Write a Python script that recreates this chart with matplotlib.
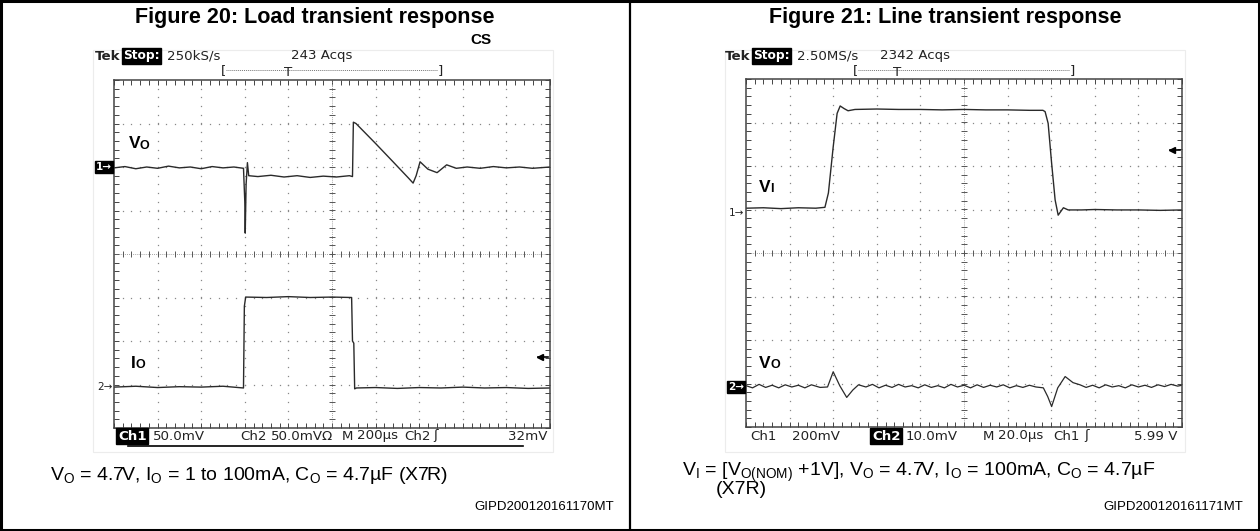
import numpy as np
import matplotlib
matplotlib.use('Agg')
import matplotlib.pyplot as plt
from matplotlib.ticker import MultipleLocator
from matplotlib.patches import Rectangle

plt.rcParams['font.family'] = ['Liberation Sans', 'DejaVu Sans']
plt.rcParams['mathtext.fontset'] = 'custom'
plt.rcParams['mathtext.rm'] = 'Liberation Sans'
plt.rcParams['mathtext.it'] = 'Liberation Sans'

# ---- data, in scope divisions (x: 0..10, y: -4..4) ----
# Figure 20, Ch1 (VO) load transient
load_vo_t = [0.0, 0.25, 0.5, 0.75, 1.0, 1.25, 1.5, 1.75, 2.0, 2.25, 2.5, 2.75, 2.97, 3.0, 3.01,
             3.03, 3.06, 3.09, 3.3, 3.6, 3.9, 4.2, 4.5, 4.8, 5.1, 5.4, 5.47, 5.49, 5.55, 6.0,
             6.4, 6.75, 6.86, 6.93, 7.02, 7.2, 7.41, 7.63, 7.85, 8.1, 8.4, 8.7, 9.0, 9.3, 9.6, 10.0]
load_vo_v = [1.98, 2.01, 1.96, 2.0, 1.97, 2.02, 1.98, 2.0, 1.96, 2.01, 1.98, 2.0, 1.97, 1.2, 0.48,
             1.6, 2.1, 1.8, 1.78, 1.81, 1.77, 1.8, 1.76, 1.79, 1.77, 1.8, 1.78, 3.03, 3.0, 2.54,
             2.12, 1.75, 1.63, 1.8, 2.12, 1.95, 1.87, 2.05, 1.97, 2.0, 1.97, 2.01, 1.98, 2.0, 1.97, 2.0]
# Figure 20, Ch2 (IO)
load_io_t = [0.0, 0.5, 1.0, 1.5, 2.0, 2.5, 2.97, 2.99, 3.02, 3.5, 4.0, 4.5, 5.0, 5.45, 5.47,
             5.5, 5.52, 5.56, 6.0, 6.5, 7.0, 7.5, 8.0, 8.5, 9.0, 9.5, 10.0]
load_io_v = [-3.06, -3.04, -3.07, -3.05, -3.06, -3.04, -3.08, -1.2, -0.99, -1.0, -0.98, -1.0, -0.99,
             -1.0, -2.0, -2.05, -3.1, -3.08, -3.07, -3.09, -3.07, -3.08, -3.06, -3.08, -3.07, -3.09, -3.08]
# Figure 21, Ch1 (VI) line step
line_vi_t = [0.0, 0.4, 0.8, 1.2, 1.6, 1.81, 1.89, 2.0, 2.09, 2.16, 2.25, 2.34, 2.5, 3.0, 3.5, 4.0,
             4.5, 5.0, 5.5, 6.0, 6.5, 6.81, 6.86, 6.93, 7.01, 7.09, 7.16, 7.28, 7.39, 7.7, 8.0, 8.5,
             9.0, 9.5, 10.0]
line_vi_v = [1.03, 1.04, 1.02, 1.04, 1.03, 1.05, 1.38, 2.44, 3.21, 3.38, 3.32, 3.27, 3.3, 3.31, 3.3,
             3.3, 3.29, 3.3, 3.29, 3.29, 3.28, 3.28, 3.25, 2.98, 2.06, 1.22, 0.87, 1.04, 0.99, 0.99,
             1.0, 0.99, 0.99, 0.98, 0.99]
# Figure 21, Ch2 (VO)
line_vo_t = [0.0, 0.15, 0.3, 0.45, 0.6, 0.75, 0.9, 1.05, 1.2, 1.35, 1.5, 1.7, 1.87, 2.0, 2.15,
             2.31, 2.45, 2.58, 2.75, 2.9, 3.05, 3.2, 3.35, 3.5, 3.65, 3.8, 3.95, 4.1, 4.25, 4.4,
             4.55, 4.7, 4.85, 5.0, 5.15, 5.3, 5.45, 5.6, 5.75, 5.9, 6.05, 6.2, 6.35, 6.5, 6.65,
             6.82, 6.92, 7.01, 7.15, 7.32, 7.5, 7.66, 7.8, 7.95, 8.1, 8.25, 8.4, 8.55, 8.7, 8.85,
             9.0, 9.15, 9.3, 9.45, 9.6, 9.75, 9.9, 10.0]
line_vo_v = [-3.05, -3.1, -3.02, -3.09, -3.04, -3.1, -3.03, -3.08, -3.04, -3.1, -3.03, -3.09, -3.08,
             -2.73, -3.05, -3.32, -3.15, -3.03, -3.08, -3.02, -3.1, -3.04, -3.09, -3.02, -3.08,
             -3.05, -3.1, -3.03, -3.09, -3.05, -3.1, -3.02, -3.08, -3.04, -3.1, -3.03, -3.09,
             -3.04, -3.08, -3.03, -3.1, -3.05, -3.09, -3.04, -3.08, -3.1, -3.3, -3.53, -3.1, -2.84,
             -2.98, -3.03, -3.09, -3.04, -3.1, -3.03, -3.08, -3.05, -3.1, -3.03, -3.08, -3.04,
             -3.09, -3.03, -3.07, -3.02, -3.06, -3.04]
# trigger level markers (div)
trig_level = [-2.37, 2.37]

titles = ['Figure 20: Load transient response', 'Figure 21: Line transient response']
codes = ['GIPD200120161170MT', 'GIPD200120161171MT']

W, H = 1260, 531
fig = plt.figure(figsize=(W / 100, H / 100), dpi=100)


def fx(x):
    return x / W


def fy(y):
    return 1 - y / H


def txt(x, y, s, **kw):
    kw.setdefault('va', 'center')
    return fig.text(fx(x), fy(y), s, **kw)


SCOPE = dict(family=['Liberation Sans Narrow', 'DejaVu Sans'], fontsize=9.6, color='#222')
WHITE = {**SCOPE, 'color': 'white'}
BOX = dict(boxstyle='square,pad=0.12', fc='black', ec='black')


def graticule(ax):
    ax.set_xlim(0, 10)
    ax.set_ylim(-4, 4)
    ax.xaxis.set_major_locator(MultipleLocator(0.2))
    ax.yaxis.set_major_locator(MultipleLocator(0.2))
    ax.tick_params(direction='in', length=3.5, width=0.7, color='#444',
                   top=True, right=True, labelbottom=False, labelleft=False)
    for s in ax.spines.values():
        s.set_linewidth(1.1)
        s.set_color('#444')
    sub_y = np.arange(-3.8, 4.0, 0.2)
    sub_x = np.arange(0.2, 10.0, 0.2)
    for i in range(1, 10):
        if i != 5:
            ax.plot([i] * len(sub_y), sub_y, ls='none', marker='s', ms=0.9, mew=0, color='#888')
    for j in range(-3, 4):
        if j != 0:
            ax.plot(sub_x, [j] * len(sub_x), ls='none', marker='s', ms=0.9, mew=0, color='#888')
    ax.axhline(0, color='#888', lw=0.6, ls=(0, (1, 1.5)))
    ax.axvline(5, color='#888', lw=0.6, ls=(0, (1, 1.5)))
    ax.plot(sub_x, [0] * len(sub_x), ls='none', marker='|', ms=5, mew=0.7, color='#555')
    ax.plot([5] * len(sub_y), sub_y, ls='none', marker='_', ms=5, mew=0.7, color='#555')


ax1 = fig.add_axes([fx(114), fy(428), 436 / W, 348 / H])
ax2 = fig.add_axes([fx(746), fy(427), 436 / W, 348 / H])
for ax in (ax1, ax2):
    graticule(ax)

ax1.plot(load_vo_t, load_vo_v, color='#2a2a2a', lw=1.0)
ax1.plot(load_io_t, load_io_v, color='#2a2a2a', lw=1.0)
ax2.plot(line_vi_t, line_vi_v, color='#2a2a2a', lw=1.0)
ax2.plot(line_vo_t, line_vo_v, color='#2a2a2a', lw=0.9)

# trigger level arrows at the right edge
for ax, lvl in ((ax1, trig_level[0]), (ax2, trig_level[1])):
    ax.plot([9.72, 9.95], [lvl, lvl], color='black', lw=1.2)
    ax.plot([9.76], [lvl], marker='<', ms=5, color='black', ls='none')

# ---- frame of the table ----
fig.patches.append(Rectangle((0.001, 0.002), 0.998, 0.996, transform=fig.transFigure,
                             fill=False, ec='black', lw=2.2))
fig.lines.append(plt.Line2D([fx(630), fx(630)], [0, 1], transform=fig.transFigure,
                            color='black', lw=1.6))
# faint borders of the scope screenshots
for x0, x1 in ((93, 553), (725, 1185)):
    fig.patches.append(Rectangle((fx(x0), fy(452)), (x1 - x0) / W, 402 / H,
                                 transform=fig.transFigure, fill=False, ec='#ececec', lw=0.8))

# ---- titles ----
txt(315, 18, titles[0], ha='center', fontsize=15.5, fontweight='bold')
txt(945, 18, titles[1], ha='center', fontsize=15.5, fontweight='bold')
txt(470, 40, 'CS', ha='left', fontsize=11, fontweight='bold')

# ---- scope header lines ----
for x0, rate, acq, xa, tb, te, tt in ((95, '250kS/s', '243 Acqs', 291, 223, 440, 288),
                                      (725, '2.50MS/s', '2342 Acqs', 880, 855, 1072, 897)):
    txt(x0, 56, 'Tek', fontweight='bold', **SCOPE)
    txt(x0 + 28, 56, 'Stop:', fontweight='bold', bbox=BOX, **{**WHITE, 'fontsize': 8.8})
    txt(x0 + 72, 56, rate, **SCOPE)
    txt(xa, 56, acq, **SCOPE)
    fig.lines.append(plt.Line2D([fx(tb + 3), fx(te - 3)], [fy(70), fy(70)], transform=fig.transFigure,
                                color='#777', lw=0.7, ls=(0, (1, 1))))
    txt(tb, 71, '[', ha='center', **SCOPE)
    txt(te, 71, ']', ha='center', **SCOPE)
    txt(tt, 72, 'T', ha='center', **SCOPE)

# ---- channel markers ----
txt(104, 167, '1\u2192', ha='center', fontweight='bold', bbox=BOX, **{**WHITE, 'fontsize': 7.5})
txt(105, 387, '2\u2192', ha='center', **{**SCOPE, 'fontsize': 7.5})
txt(737, 213, '1\u2192', ha='center', **{**SCOPE, 'fontsize': 7.5})
txt(736, 387, '2\u2192', ha='center', fontweight='bold', bbox=BOX, **{**WHITE, 'fontsize': 7.5})


# ---- trace labels ----
def trace_label(x, y, big, small, gap):
    txt(x, y, big, ha='left', fontsize=12.5, fontweight='bold')
    txt(x + gap, y + 2, small, ha='left', fontsize=9, fontweight='bold')


trace_label(129, 144, 'V', 'O', 11)
trace_label(131, 363, 'I', 'O', 5)
trace_label(759, 187, 'V', 'I', 11)
trace_label(759, 363, 'V', 'O', 11)

# ---- scope status lines ----
y_st = 436
txt(118, y_st, 'Ch1', fontweight='bold', bbox=BOX, **WHITE)
txt(153, y_st, '50.0mV', **SCOPE)
txt(240, y_st, 'Ch2', **SCOPE)
txt(271, y_st, '50.0mV\u03a9', **SCOPE)
txt(342, y_st, 'M', **SCOPE)
txt(357, y_st, '200\u00b5s', **SCOPE)
txt(404, y_st, 'Ch2', **SCOPE)
txt(433, y_st, '\u0283', **SCOPE)
txt(547, y_st, '32mV', ha='right', **SCOPE)
fig.lines.append(plt.Line2D([fx(128), fx(523)], [fy(446), fy(446)], transform=fig.transFigure,
                            color='black', lw=1.2))

txt(750, y_st, 'Ch1', **SCOPE)
txt(792, y_st, '200mV', **SCOPE)
txt(872, y_st, 'Ch2', fontweight='bold', bbox=BOX, **WHITE)
txt(906, y_st, '10.0mV', **SCOPE)
txt(983, y_st, 'M', **SCOPE)
txt(998, y_st, '20.0\u00b5s', **SCOPE)
txt(1053, y_st, 'Ch1', **SCOPE)
txt(1084, y_st, '\u0283', **SCOPE)
txt(1177, y_st, '5.99 V', ha='right', **SCOPE)

# ---- conditions ----
txt(50, 475, r'V$_\mathrm{O}$ = 4.7V, I$_\mathrm{O}$ = 1 to 100mA, C$_\mathrm{O}$ = 4.7' + '\u00b5F (X7R)',
    ha='left', fontsize=14)
txt(682, 472, r'V$_\mathrm{I}$ = [V$_\mathrm{O(NOM)}$ +1V], V$_\mathrm{O}$ = 4.7V, I$_\mathrm{O}$ = 100mA, C$_\mathrm{O}$ = 4.7'
    + '\u00b5F', ha='left', fontsize=14)
txt(716, 490, '(X7R)', ha='left', fontsize=14)
txt(614, 507, codes[0], ha='right', fontsize=9.5)
txt(1243, 507, codes[1], ha='right', fontsize=9.5)

fig.savefig('out.png', dpi=100)
